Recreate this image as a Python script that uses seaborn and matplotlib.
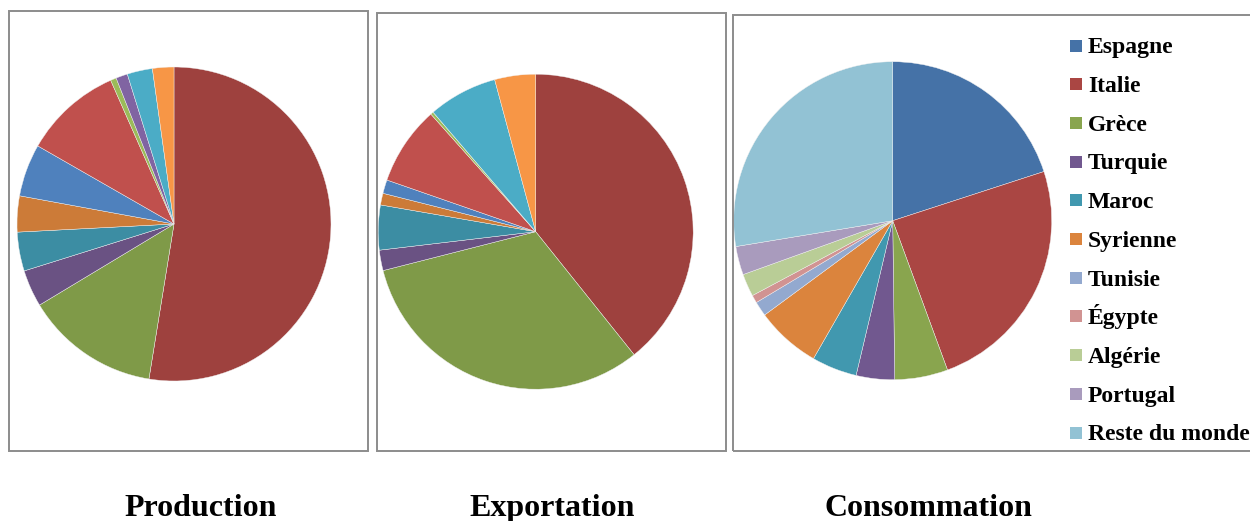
import matplotlib
matplotlib.use("Agg")
import matplotlib.pyplot as plt
from matplotlib.patches import Rectangle
import seaborn as sns

sns.set_theme(style="white")
plt.rcParams["font.family"] = ["Liberation Serif", "DejaVu Serif"]

# Pays (legende) et parts en %
pays = ["Espagne", "Italie", "Grèce", "Turquie", "Maroc", "Syrienne",
        "Tunisie", "Égypte", "Algérie", "Portugal", "Reste du monde"]

production = [52.5, 13.8, 3.8, 4.0, 3.7, 5.4, 10.1, 0.6, 1.2, 2.6, 2.2]
exportation = [39.3, 31.8, 2.1, 4.6, 1.2, 1.4, 8.1, 0.3, 0.0, 7.1, 4.2]
consommation = [20.0, 24.4, 5.4, 3.9, 4.6, 6.6, 1.5, 0.8, 2.3, 2.9, 27.6]

titres = ["Production", "Exportation", "Consommation"]

couleurs_pe = ["#9E413E", "#7F9A48", "#6A5283", "#3C8DA3", "#CC7B38",
               "#4F81BD", "#C0504D", "#9BBB59", "#8064A2", "#4BACC6", "#F79646"]
couleurs_c = ["#4572A7", "#AA4643", "#89A54E", "#71588F", "#4198AF", "#DB843D",
              "#93A9CF", "#D19392", "#B9CD96", "#A99BBD", "#92C2D4"]

W, H = 1250, 521
fig = plt.figure(figsize=(W / 100, H / 100), dpi=100)
fig.patch.set_facecolor("white")


def px_rect(x0, y0, x1, y1):
    """Rectangle in pixel coords (y from top) -> figure fraction."""
    return [x0 / W, 1 - y1 / H, (x1 - x0) / W, (y1 - y0) / H]


# Cadres gris autour de chaque graphique
for (x0, y0, x1, y1) in [(9, 11, 368, 451), (377, 13, 726, 451), (733, 15, 1262, 451)]:
    l, b, w, h = px_rect(x0, y0, x1, y1)
    fig.patches.append(Rectangle((l, b), w, h, transform=fig.transFigure,
                                 fill=False, edgecolor="#8C8C8C", linewidth=1.4))

series = [production, exportation, consommation]
palettes = [couleurs_pe, couleurs_pe, couleurs_c]
centres = [(174, 224, 157), (535.7, 231.7, 157.5), (892.7, 220.7, 159)]
titre_x = [201, 552.5, 928]

wedges_c = None
for vals, cols, (cx, cy, r), titre, tx in zip(series, palettes, centres, titres, titre_x):
    ax = fig.add_axes(px_rect(cx - r, cy - r, cx + r, cy + r))
    wedges, _ = ax.pie(vals, colors=cols, startangle=90, counterclock=False,
                       radius=1.0, wedgeprops=dict(linewidth=0.3, edgecolor="#F2F2F2"))
    ax.set_xlim(-1, 1)
    ax.set_ylim(-1, 1)
    ax.set_aspect("equal")
    ax.axis("off")
    fig.text(tx / W, 1 - 516 / H, titre, ha="center", va="baseline",
             fontsize=23, fontweight="bold", color="black")
    wedges_c = wedges

# Legende : carre de couleur + libelle, une ligne par pays
y0, pas, cote = 45.5, 38.7, 12
for i, (nom, w) in enumerate(zip(pays, wedges_c)):
    yc = y0 + i * pas
    l, b, ww, hh = px_rect(1070, yc - cote / 2, 1070 + cote, yc + cote / 2)
    fig.patches.append(Rectangle((l, b), ww, hh, transform=fig.transFigure,
                                 facecolor=w.get_facecolor(), edgecolor="none"))
    fig.text(1088 / W, 1 - (yc + 7.8) / H, nom, ha="left", va="baseline",
             fontsize=17, fontweight="bold", color="black")

fig.savefig("out.png", dpi=100, facecolor="white")
